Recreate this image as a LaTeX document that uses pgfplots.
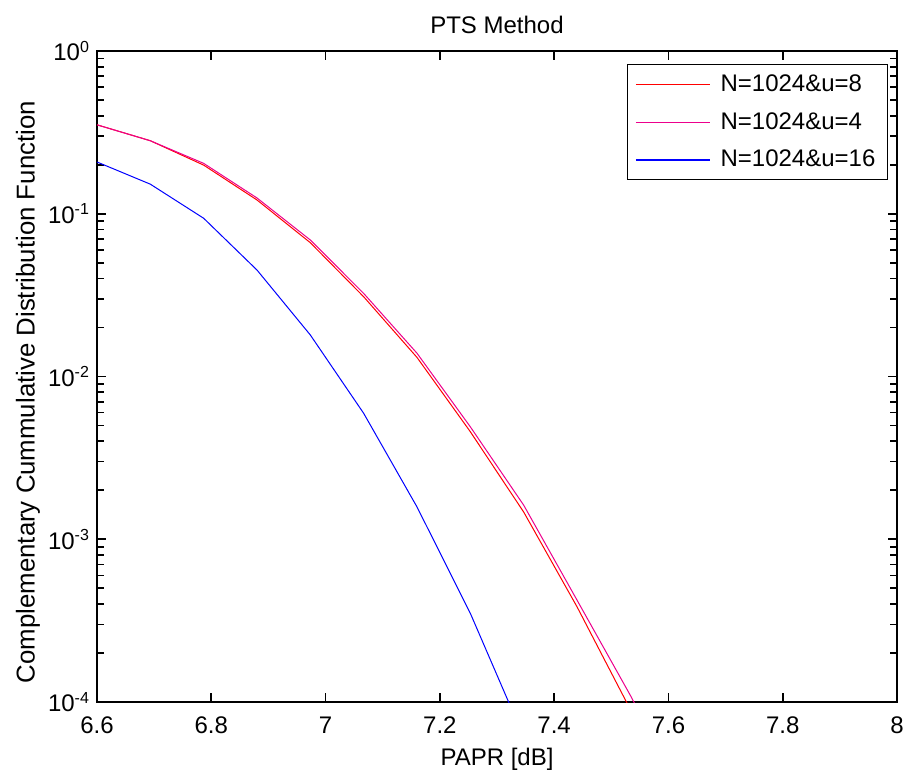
\documentclass[border=0pt]{standalone}
\usepackage{fontspec}
\setmainfont{Liberation Sans}
\usepackage{pgfplots}
\pgfplotsset{compat=1.18}

% CCDF curves (x step = 1.4/15)
\begin{document}
\begin{tikzpicture}
\begin{axis}[
  name=ax,
  scale only axis,
  width=400pt, height=325.5pt,
  ymode=log,
  xmin=6.6, xmax=8,
  ymin=1e-4, ymax=1,
  xtick={6.6,6.8,7,7.2,7.4,7.6,7.8,8},
  ytick={1e-4,1e-3,1e-2,1e-1,1},
  yticklabels={10\textsuperscript{-4},10\textsuperscript{-3},10\textsuperscript{-2},10\textsuperscript{-1},10\textsuperscript{0}},
  minor ytick={2e-4,3e-4,4e-4,5e-4,6e-4,7e-4,8e-4,9e-4,
               2e-3,3e-3,4e-3,5e-3,6e-3,7e-3,8e-3,9e-3,
               2e-2,3e-2,4e-2,5e-2,6e-2,7e-2,8e-2,9e-2,
               0.2,0.3,0.4,0.5,0.6,0.7,0.8,0.9},
  xtick pos=both, ytick pos=both,
  xtick align=inside, ytick align=inside,
  major tick length=4.5pt,
  minor tick length=3.5pt,
  axis line style={black, line width=0.6pt},
  every major tick/.append style={black, line width=0.8pt},
  every minor tick/.append style={black, line width=0.8pt},
  /pgf/number format/assume math mode=true,
  font=\fontsize{12}{14}\selectfont,
  tick label style={font=\fontsize{12}{14}\selectfont},
  xticklabel style={yshift=-4pt},
  title={PTS Method},
  title style={yshift=-1pt},
  xlabel={PAPR [dB]},
  ylabel={Complementary Cummulative Distribution Function},
  ylabel style={font=\fontsize{12.9}{15}\selectfont,
    at={([xshift=-34.5pt]rel axis cs:0,0.476)}, anchor=center},
  legend cell align=left,
  legend style={at={(1,1)}, anchor=north east, xshift=-4.5pt, yshift=-6.5pt,
    draw=black, line width=0.6pt, font=\fontsize{12}{14}\selectfont,
    row sep=5pt, column sep=3pt, inner xsep=4pt, inner ysep=3pt},
  legend image code/.code={\draw[#1, line width=0.6pt] (0pt,0pt) -- (37pt,0pt);},
]
\addplot[red, line width=0.5pt] coordinates {
  (6.6,0.352) (6.6933,0.281) (6.7867,0.199) (6.88,0.1215) (6.9733,0.0664)
  (7.0667,0.0309) (7.16,0.0131) (7.2533,0.00458) (7.3467,0.00147)
  (7.44,3.85e-4) (7.5333,9.0e-5) (7.6267,1.8e-5)
};
\addlegendentry{N=1024\&u=8}
\addplot[magenta, line width=0.5pt] coordinates {
  (6.6,0.352) (6.6933,0.281) (6.7867,0.204) (6.88,0.125) (6.9733,0.0690)
  (7.0667,0.0324) (7.16,0.0139) (7.2533,0.00491) (7.3467,0.00162)
  (7.44,4.23e-4) (7.5333,1.10e-4) (7.6267,2.6e-5)
};
\addlegendentry{N=1024\&u=4}
\addplot[blue, line width=0.5pt] coordinates {
  (6.6,0.208) (6.6933,0.152) (6.7867,0.0938) (6.88,0.0451) (6.9733,0.0180)
  (7.0667,0.00594) (7.16,0.00158) (7.2533,3.51e-4) (7.3467,6.1e-5)
};
\addlegendentry{N=1024\&u=16}
\end{axis}
\pgfresetboundingbox
\path[use as bounding box] ([xshift=-48.5pt,yshift=-35pt]ax.south west) rectangle ([xshift=4pt,yshift=25.5pt]ax.north east);
\end{tikzpicture}
\end{document}
